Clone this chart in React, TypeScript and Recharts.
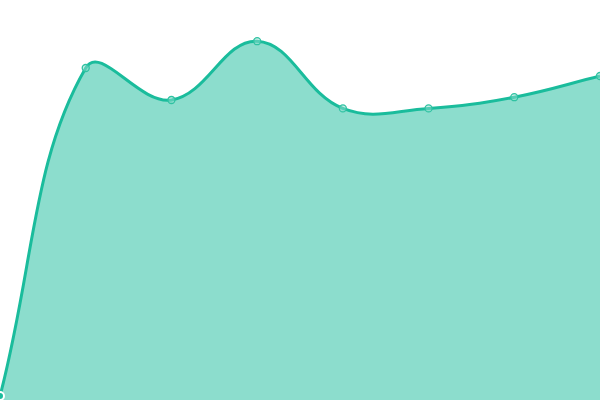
import React from "react";
import { AreaChart, Area, XAxis, YAxis } from "recharts";

const categories = ["A", "B", "C", "D", "E", "F", "G", "H"];
const values = [1, 83, 75, 89.7, 72.9, 72.9, 75.7, 81];

const data = categories.map((name, i) => ({ name, value: values[i] }));

const TENSION = 0.4;

// Chart.js-style spline curve factory (tension-based cubic Bézier)
function chartJsCurve(context: any) {
  let pts: [number, number][] = [];
  let line: number = NaN;
  return {
    areaStart() {
      line = 0;
    },
    areaEnd() {
      line = NaN;
    },
    lineStart() {
      pts = [];
    },
    point(x: number, y: number) {
      pts.push([+x, +y]);
    },
    lineEnd() {
      const n = pts.length;
      if (n > 0) {
        const cps: { px: number; py: number; nx: number; ny: number }[] = [];
        for (let i = 0; i < n; i++) {
          const prev = pts[i - 1] || pts[i];
          const cur = pts[i];
          const next = pts[i + 1] || pts[i];
          const d01 = Math.hypot(cur[0] - prev[0], cur[1] - prev[1]);
          const d12 = Math.hypot(next[0] - cur[0], next[1] - cur[1]);
          let s01 = d01 / (d01 + d12);
          let s12 = d12 / (d01 + d12);
          s01 = isNaN(s01) ? 0 : s01;
          s12 = isNaN(s12) ? 0 : s12;
          const fa = TENSION * s01;
          const fb = TENSION * s12;
          cps.push({
            px: cur[0] - fa * (next[0] - prev[0]),
            py: cur[1] - fa * (next[1] - prev[1]),
            nx: cur[0] + fb * (next[0] - prev[0]),
            ny: cur[1] + fb * (next[1] - prev[1]),
          });
        }
        if (line) context.lineTo(pts[0][0], pts[0][1]);
        else context.moveTo(pts[0][0], pts[0][1]);
        for (let i = 1; i < n; i++) {
          context.bezierCurveTo(cps[i - 1].nx, cps[i - 1].ny, cps[i].px, cps[i].py, pts[i][0], pts[i][1]);
        }
      }
      if (line || (line !== 0 && n === 1)) context.closePath();
      line = 1 - line;
    },
  };
}

export default function App() {
  return (
    <div style={{ position: "absolute", left: 0, top: 0, width: 600, height: 400, background: "#fff" }}>
      <style>{`body{margin:0}`}</style>
      <AreaChart width={600} height={400} data={data} margin={{ top: 0, right: 0, bottom: 0, left: 0 }}>
        <XAxis dataKey="name" hide />
        <YAxis hide domain={[0, 100]} />
        <Area
          type={chartJsCurve as any}
          dataKey="value"
          stroke="#1abc9c"
          strokeWidth={3}
          fill="#1abc9c"
          fillOpacity={0.5}
          dot={{ r: 3.5, fill: "#8ddece", stroke: "#2fc2a2", strokeWidth: 1.3 }}
          isAnimationActive={false}
        />
      </AreaChart>
    </div>
  );
}
